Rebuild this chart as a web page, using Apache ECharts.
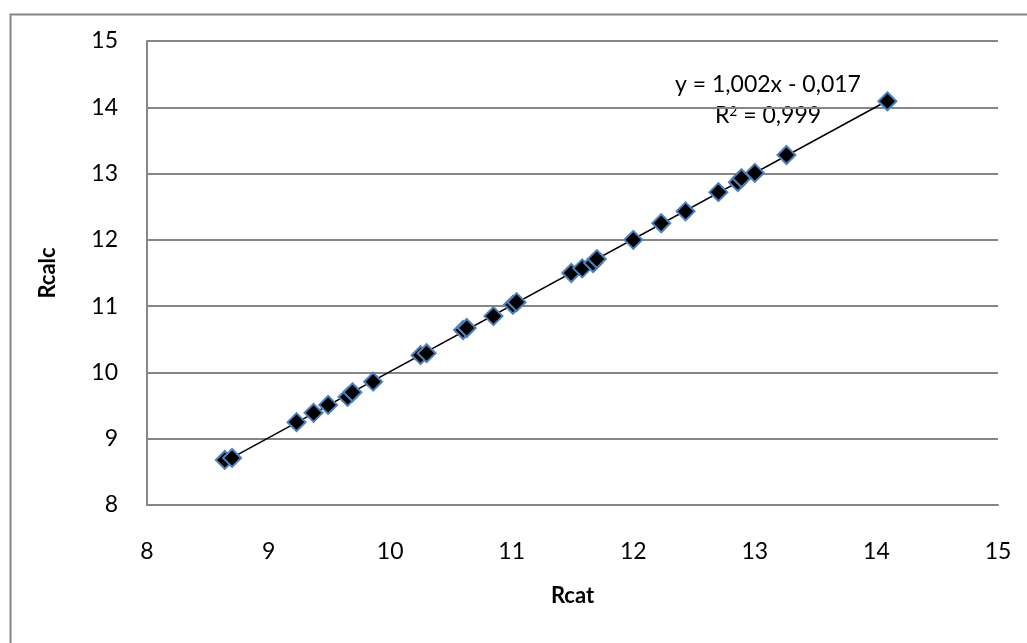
<!DOCTYPE html>
<html>
<head>
<meta charset="utf-8">
<script src="https://cdn.jsdelivr.net/npm/echarts@6/dist/echarts.min.js"></script>
<style>
html,body{margin:0;padding:0;background:#fff;}
#main{width:1027px;height:643px;}
</style>
</head>
<body>
<div id="main"></div>
<script>
// values
var rcat  = [8.64, 8.70, 9.23, 9.37, 9.49, 9.65, 9.69, 9.86, 10.25, 10.30, 10.60, 10.63, 10.85, 11.01, 11.04, 11.49, 11.58, 11.67, 11.70, 12.00, 12.23, 12.43, 12.70, 12.86, 12.89, 13.00, 13.26, 14.09];
var rcalc = [8.68, 8.71, 9.25, 9.39, 9.51, 9.63, 9.70, 9.86, 10.26, 10.29, 10.64, 10.67, 10.85, 11.02, 11.06, 11.50, 11.57, 11.65, 11.71, 12.00, 12.25, 12.43, 12.72, 12.87, 12.93, 13.01, 13.28, 14.09];
var eqText = 'y = 1,002x - 0,017';
var r2Text = ' = 0,999';

var points = rcat.map(function(x, i){ return [x, rcalc[i]]; });

// least squares line through the points, drawn over their x range
function fitLine(xs, ys){
	var n = xs.length, sx = 0, sy = 0, sxx = 0, sxy = 0;
	for (var i = 0; i < n; i++){
		sx += xs[i]; sy += ys[i]; sxx += xs[i]*xs[i]; sxy += xs[i]*ys[i];
	}
	var a = (n*sxy - sx*sy)/(n*sxx - sx*sx);
	var b = (sy - a*sx)/n;
	var x0 = Math.min.apply(null, xs), x1 = Math.max.apply(null, xs);
	return [[x0, a*x0 + b], [x1, a*x1 + b]];
}
var trend = fitLine(rcat, rcalc);

var font = 'Lato, "Open Sans", sans-serif';
var gray = '#868686';

var chart = echarts.init(document.getElementById('main'));
chart.setOption({
	animation:false,
	grid:{left:147, right:29, top:41, bottom:138, outerBoundsMode:'none'},
	xAxis:{
		type:'value', min:8, max:15, interval:1,
		name:'Rcat', nameLocation:'middle', nameGap:80,
		nameTextStyle:{fontFamily:font, fontSize:22, fontWeight:'bold', color:'#000'},
		axisLine:{show:true, lineStyle:{color:gray, width:2}},
		axisTick:{show:false},
		axisLabel:{margin:35, fontFamily:font, fontSize:23, color:'#000'},
		splitLine:{show:false}
	},
	yAxis:{
		type:'value', min:8, max:15, interval:1,
		name:'Rcalc', nameLocation:'middle', nameGap:88,
		nameTextStyle:{fontFamily:font, fontSize:22, fontWeight:'bold', color:'#000'},
		axisLine:{show:true, lineStyle:{color:gray, width:2}},
		axisTick:{show:false},
		axisLabel:{margin:29, fontFamily:font, fontSize:23, color:'#000'},
		splitLine:{show:true, lineStyle:{color:gray, width:2}}
	},
	graphic:[
		// chart frame, runs off the right and bottom of the picture
		{type:'rect', left:8, top:12, z:-1, shape:{width:1100, height:700}, style:{fill:'none', stroke:gray, lineWidth:2}},
		{type:'text', x:768, y:85, style:{text:eqText, fontFamily:font, fontSize:23, fill:'#000', align:'center', verticalAlign:'middle'}},
		{type:'text', x:768, y:116, style:{
			text:'{n|R}{s|2}{n|' + r2Text + '}', align:'center', verticalAlign:'middle',
			rich:{
				n:{fontFamily:font, fontSize:23, fill:'#000'},
				s:{fontFamily:font, fontSize:14, fill:'#000', verticalAlign:'top', padding:[0, 0, 10, 0]}
			}
		}}
	],
	series:[
		{
			name:'trend', type:'line', data:trend, symbol:'none', z:2,
			lineStyle:{color:'#000', width:1.5}
		},
		{
			name:'Rcalc', type:'scatter', data:points, symbol:'diamond', symbolSize:18, z:3,
			itemStyle:{color:'#000', borderColor:'#4f81bd', borderWidth:2, opacity:1}
		}
	]
});
</script>
</body>
</html>
